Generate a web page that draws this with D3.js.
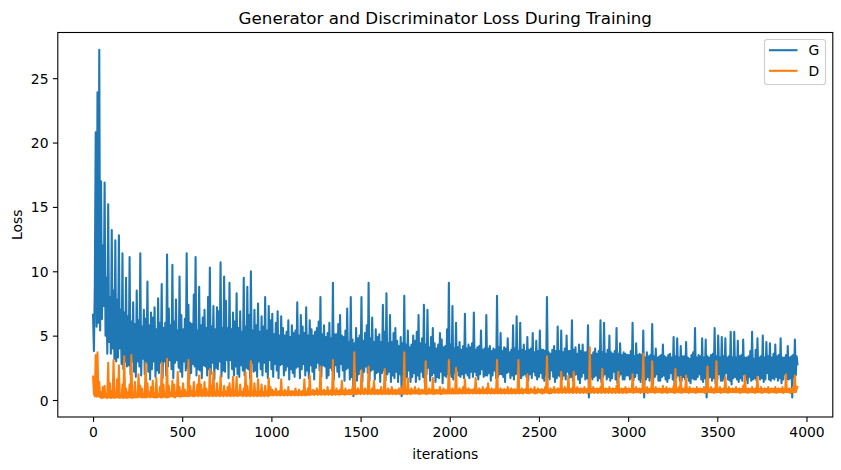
<!DOCTYPE html>
<html>
<head>
<meta charset="utf-8">
<script src="https://cdn.jsdelivr.net/npm/d3@7"></script>
<style>
  html, body { margin: 0; padding: 0; background: #fff; }
  text { font-family: "DejaVu Sans", sans-serif; fill: #000; }
</style>
</head>
<body>
<svg id="chart" width="841" height="470"></svg>
<script>
// ---- data (one value every 5 iterations) ----
const iterStep = 5;
const seriesNames = ["G", "D"];
const seriesColors = ["#1f77b4", "#ff7f0e"];
const gLoss = [
  6.7,3.8,8.9,20.8,5.7,23.9,6.0,27.2,5.4,17.0,6.3,12.0,7.3,16.9,5.0,9.5,3.6,15.2,4.5,8.0,3.6,13.2,4.0,8.5,3.2,12.4,3.0,7.8,3.3,12.8,4.0,7.0,2.8,11.4,2.4,6.8,3.0,9.5,2.6,6.5,
  2.7,11.1,2.0,6.1,3.0,7.6,2.2,5.9,1.8,8.5,3.0,6.2,2.6,11.4,1.9,5.7,3.2,7.0,2.0,6.3,2.9,9.2,2.2,5.8,1.6,6.8,2.4,6.4,3.0,7.2,1.8,5.5,2.3,7.9,2.1,6.0,2.9,9.0,1.7,5.6,
  3.0,6.0,1.9,11.3,2.6,7.1,3.1,5.8,2.4,10.5,1.7,6.1,2.9,7.8,3.1,5.4,2.5,9.6,2.2,6.6,1.8,5.5,3.0,6.3,2.3,11.4,2.5,7.4,1.6,6.0,2.1,5.9,2.8,8.2,2.6,11.1,1.9,5.4,2.4,8.8,
  2.3,5.8,1.7,6.4,2.7,7.0,2.6,5.6,1.9,8.0,2.4,10.3,2.0,5.7,2.9,7.3,1.6,5.5,2.5,7.2,2.4,6.9,3.0,10.7,1.8,5.6,2.3,9.6,2.2,7.7,3.1,5.6,1.7,9.1,3.1,5.5,2.4,6.8,1.9,6.1,
  2.6,8.3,2.0,5.6,1.8,6.9,2.7,5.3,2.3,9.5,1.9,5.7,2.5,8.8,2.4,6.6,1.7,10.0,2.9,5.4,2.2,7.0,2.3,5.8,1.8,7.5,3.0,5.3,2.4,6.5,1.9,5.7,2.9,8.0,2.2,5.4,1.7,7.3,3.1,6.2,
  2.4,6.7,1.8,5.1,2.8,6.0,2.3,6.9,1.7,5.0,2.7,6.5,2.8,5.6,1.9,5.0,2.3,5.3,2.6,6.2,1.6,4.9,2.4,5.8,2.1,5.2,1.8,5.4,2.5,7.6,2.6,5.0,1.7,6.6,2.4,5.7,2.8,5.2,1.9,7.2,
  2.3,5.0,1.7,6.2,2.7,5.5,2.2,5.0,1.6,5.3,2.5,5.6,2.9,6.1,2.3,8.0,1.8,5.1,2.7,5.8,2.6,4.9,1.7,5.2,1.9,6.0,2.5,4.8,2.3,9.1,1.6,5.1,2.7,5.1,2.2,5.9,1.8,6.6,2.8,5.0,
  2.3,4.9,1.5,5.4,2.4,7.1,2.5,4.5,1.6,8.0,1.8,4.7,0.3,4.4,2.2,5.6,1.5,4.8,2.0,5.0,2.4,8.0,1.4,4.6,2.2,5.2,2.6,5.8,2.1,9.1,1.5,4.8,2.3,6.4,2.4,4.5,1.6,5.5,2.1,4.9,
  2.2,5.1,1.4,4.5,2.1,7.4,2.3,5.3,1.5,8.3,2.0,4.4,2.2,6.6,1.4,4.5,1.9,5.2,1.7,5.6,2.2,4.6,1.4,4.2,2.0,4.9,0.3,4.4,2.1,8.1,1.5,4.3,1.8,5.4,2.3,4.1,1.4,4.3,1.8,5.0,
  2.1,4.6,1.4,5.3,1.9,6.6,1.6,4.4,2.2,4.8,1.8,7.4,1.3,4.3,2.0,7.0,2.5,4.1,1.5,4.9,1.9,5.6,2.1,4.4,1.4,4.0,1.8,4.3,1.7,5.2,2.2,4.7,1.3,4.1,1.9,4.2,1.8,5.5,2.0,9.1,
  2.0,4.3,1.8,7.3,1.6,4.0,2.1,6.0,2.3,4.1,1.9,4.5,1.8,3.9,2.0,4.2,1.7,6.7,2.1,4.0,1.9,4.3,1.7,4.1,2.2,4.4,1.8,6.8,2.2,3.9,1.9,4.1,1.6,4.2,2.0,5.4,2.4,3.9,1.8,4.0,
  1.9,6.6,1.9,4.0,2.1,4.2,1.5,3.8,1.9,4.0,2.3,3.9,1.7,8.1,1.8,4.1,2.0,5.2,2.0,3.8,1.8,4.1,1.4,4.0,2.1,4.8,2.2,3.7,1.7,3.9,1.9,5.8,1.6,4.0,2.0,6.5,2.1,3.8,1.7,6.0,
  1.7,3.9,1.9,4.3,2.0,3.8,1.8,4.9,1.5,3.9,2.0,4.0,1.7,5.2,2.2,3.7,1.9,4.6,1.6,3.8,1.8,5.4,2.1,3.9,1.7,3.9,1.5,3.8,1.9,8.0,1.8,3.7,1.6,3.6,2.3,3.9,1.8,4.2,1.4,3.8,
  1.7,5.7,1.9,3.8,1.8,5.4,1.6,3.7,1.9,4.0,1.6,5.0,2.2,3.8,1.7,3.8,1.8,6.2,1.5,3.9,1.9,4.1,2.0,3.6,1.6,4.3,1.3,3.8,1.8,4.3,2.1,3.7,1.6,3.7,1.7,5.8,0.2,3.6,1.8,3.5,
  1.6,3.7,1.8,4.0,1.9,3.6,1.5,3.8,1.7,6.2,1.4,3.7,1.8,6.0,2.0,3.6,1.6,3.9,1.8,5.0,1.5,3.7,1.7,3.6,2.2,3.8,1.6,5.6,1.3,3.6,1.8,4.4,2.0,3.5,1.6,3.7,1.6,3.6,1.9,3.5,
  1.9,3.5,1.6,3.8,1.7,6.0,1.5,3.4,1.8,4.4,2.1,3.5,1.6,3.6,1.4,3.5,1.7,5.4,0.2,3.3,1.6,3.7,1.8,3.4,1.5,3.5,1.7,5.9,1.3,3.4,1.8,4.0,2.0,3.3,1.5,3.4,1.5,3.5,1.8,4.3,
  1.9,3.4,1.6,3.3,1.4,3.5,1.7,3.6,2.1,3.3,1.6,4.9,1.2,3.4,1.7,4.8,1.9,3.3,1.5,4.2,1.5,3.4,1.8,3.4,1.6,4.5,1.8,3.3,1.5,3.2,1.3,3.5,1.7,3.7,1.6,5.6,1.6,3.3,1.8,3.5,
  2.0,3.4,1.6,4.8,1.4,3.3,1.7,4.7,0.2,3.4,1.6,3.3,1.8,3.5,1.5,3.6,1.7,5.6,1.3,3.4,1.6,5.0,2.0,3.3,1.5,4.9,1.5,3.4,1.7,4.8,2.1,3.3,1.6,3.4,1.5,5.3,1.2,3.3,1.7,5.3,
  1.8,3.3,1.6,4.6,1.4,3.4,1.7,3.5,1.5,4.7,2.0,3.3,1.6,3.3,1.3,3.4,1.8,3.8,1.5,5.3,1.6,3.2,1.7,3.9,1.5,4.8,1.9,3.3,1.6,3.4,1.7,5.0,1.4,3.3,1.6,4.5,2.1,3.4,1.6,4.4,
  1.5,3.3,1.7,3.6,1.6,4.3,1.8,3.4,1.5,3.5,1.7,4.8,1.3,3.3,1.6,3.3,2.0,3.5,1.6,4.2,1.6,3.3,1.7,3.4,0.2,3.5,1.8,4.7,1.9,3.4,2.7
];
const dLoss = [
  1.9,0.5,0.3,3.5,0.25,3.7,0.3,1.4,0.2,0.6,0.15,1.0,0.2,1.1,0.2,0.4,0.15,2.9,0.2,1.3,0.15,0.7,0.2,3.1,0.15,0.5,0.2,1.6,0.2,2.7,0.15,0.45,0.2,1.2,0.15,3.4,0.2,0.9,0.15,0.6,
  0.2,1.2,0.2,3.5,0.15,0.45,0.2,1.4,0.2,0.4,0.2,2.0,0.25,1.1,0.2,0.9,0.2,0.45,0.2,2.9,0.2,1.3,0.25,0.6,0.2,1.0,0.25,1.5,0.2,0.5,0.2,1.7,0.2,0.45,0.25,1.0,0.2,2.9,0.2,1.2,
  0.25,0.5,0.2,3.2,0.2,1.1,0.25,0.6,0.3,1.5,0.25,1.2,0.2,0.55,0.3,2.2,0.3,1.0,0.25,0.7,0.3,1.3,0.3,0.8,0.3,0.6,0.3,3.1,0.3,1.1,0.35,0.7,0.3,1.4,0.3,0.6,0.35,1.2,0.3,1.9,
  0.35,1.2,0.3,0.8,0.35,1.4,0.3,0.9,0.35,0.6,0.3,2.4,0.35,1.1,0.3,2.2,0.35,0.6,0.3,1.3,0.35,0.65,0.3,1.9,0.35,0.6,0.3,1.1,0.35,0.65,0.3,1.0,0.35,1.3,0.3,0.8,0.35,1.8,0.3,0.65,
  0.35,1.8,0.3,0.6,0.35,1.2,0.35,0.6,0.3,0.9,0.35,2.2,0.3,1.1,0.35,0.7,0.3,3.0,0.35,0.6,0.3,1.3,0.35,0.6,0.3,1.6,0.35,0.65,0.3,1.2,0.35,0.6,0.3,1.1,0.35,0.65,0.3,1.7,0.35,1.0,
  0.4,0.8,0.35,0.65,0.4,0.9,0.35,0.65,0.4,0.7,0.35,1.6,0.4,0.65,0.35,0.8,0.4,0.65,0.35,1.0,0.4,0.65,0.35,0.7,0.4,0.65,0.35,0.9,0.4,0.65,0.35,0.8,0.4,0.65,0.35,0.7,0.4,1.6,0.35,0.65,
  0.4,0.9,0.4,1.9,0.4,0.7,0.45,0.8,0.4,0.7,0.45,0.9,0.4,0.7,0.45,2.6,0.4,0.7,0.45,0.8,0.4,0.7,0.45,1.0,0.4,0.7,0.45,0.8,0.4,3.1,0.45,0.7,0.4,0.9,0.45,0.7,0.4,0.8,0.45,1.5,
  0.45,0.7,0.4,0.9,0.45,0.7,0.45,0.8,0.45,0.75,0.45,1.0,0.45,3.7,0.45,0.75,0.45,0.9,0.5,0.75,0.45,2.3,0.5,0.75,0.45,0.9,0.5,0.75,0.45,2.6,0.5,0.75,0.45,0.9,0.5,1.5,0.45,0.75,0.5,0.8,
  0.45,0.75,0.5,1.0,0.45,0.75,0.5,2.4,0.45,0.75,0.5,0.9,0.45,0.75,0.5,1.0,0.45,0.75,0.5,0.8,0.45,0.75,0.5,0.9,0.45,0.75,0.5,1.1,0.45,3.7,0.5,0.75,0.45,1.7,0.5,0.75,0.45,0.9,0.5,0.75,
  0.5,1.0,0.5,0.75,0.5,0.9,0.45,0.75,0.5,0.8,0.5,0.75,0.5,3.0,0.45,0.75,0.5,0.9,0.5,0.75,0.5,1.7,0.45,0.75,0.5,0.8,0.5,0.75,0.5,1.0,0.45,0.75,0.5,0.9,0.5,0.75,0.5,0.8,0.5,3.1,
  0.5,0.8,0.5,0.9,0.5,0.8,0.5,2.5,0.5,0.8,0.5,0.9,0.55,0.8,0.5,1.0,0.55,1.6,0.5,0.8,0.55,0.9,0.5,0.8,0.55,0.8,0.5,0.85,0.55,1.7,0.5,0.8,0.55,0.9,0.5,0.8,0.55,1.0,0.5,0.8,
  0.55,0.9,0.5,1.3,0.55,0.8,0.5,0.9,0.55,0.8,0.5,0.85,0.55,3.1,0.5,0.8,0.55,0.9,0.5,0.8,0.55,0.85,0.5,0.8,0.55,1.0,0.5,0.8,0.55,0.9,0.5,0.8,0.55,0.85,0.5,0.8,0.55,3.1,0.5,0.8,
  0.55,0.9,0.5,0.8,0.6,0.85,0.55,2.0,0.5,0.8,0.55,0.9,0.6,0.8,0.55,1.0,0.5,0.8,0.55,0.9,0.6,0.8,0.55,0.85,0.5,0.8,0.55,1.0,0.6,3.4,0.55,0.8,0.5,0.9,0.55,0.8,0.6,1.0,0.55,0.8,
  0.6,0.9,0.55,0.85,0.6,2.2,0.55,0.85,0.6,1.0,0.55,0.85,0.6,1.9,0.55,0.85,0.6,0.9,0.55,2.2,0.6,0.85,0.55,1.0,0.6,0.85,0.55,0.9,0.6,0.85,0.55,1.0,0.6,0.85,0.55,0.9,0.6,4.1,0.55,0.85,
  0.6,1.0,0.55,0.85,0.6,0.9,0.55,0.85,0.6,1.0,0.55,2.4,0.6,0.85,0.55,0.9,0.6,0.85,0.55,1.0,0.6,0.85,0.55,0.9,0.6,0.85,0.55,1.1,0.6,2.2,0.55,0.85,0.6,0.9,0.55,0.85,0.6,1.0,0.55,0.85,
  0.6,0.9,0.6,0.85,0.6,2.0,0.55,0.85,0.6,1.0,0.6,0.85,0.6,0.9,0.55,0.85,0.6,3.6,0.6,0.85,0.6,1.0,0.55,0.85,0.6,0.9,0.6,3.0,0.6,0.85,0.55,1.0,0.6,0.85,0.6,0.9,0.6,0.85,0.55,1.1,
  0.6,0.85,0.6,1.0,0.55,0.85,0.6,0.9,0.6,0.85,0.6,1.1,0.55,2.4,0.6,0.85,0.6,1.0,0.6,1.8,0.55,0.85,0.6,0.9,0.6,1.9,0.6,0.85,0.55,1.0,0.6,0.85,0.6,0.9,0.6,0.85,0.55,1.0,0.6,0.85,
  0.6,0.9,0.6,0.85,0.6,1.0,0.55,0.85,0.6,2.6,0.6,0.85,0.6,1.0,0.6,0.85,0.55,0.9,0.6,3.0,0.6,0.85,0.6,1.0,0.55,0.85,0.6,0.9,0.6,1.8,0.6,0.85,0.55,1.0,0.6,0.85,0.6,0.9,0.6,0.85,
  0.6,1.0,0.6,0.85,0.6,0.9,0.55,0.85,0.6,1.1,0.6,1.9,0.6,0.85,0.55,0.9,0.6,0.85,0.6,1.0,0.6,0.85,0.55,0.9,0.6,1.8,0.6,0.85,0.6,1.0,0.55,0.85,0.6,0.9,0.6,0.85,0.6,1.0,0.55,0.85,
  0.6,0.9,0.6,0.85,0.6,1.0,0.55,0.85,0.6,0.9,0.6,0.85,0.6,1.0,0.55,0.85,0.6,2.0,0.6,0.85,0.6,0.9,0.55,0.85,0.6,1.0,0.6,1.9,0.6,0.85,1.1
];
const xTicks = [0, 500, 1000, 1500, 2000, 2500, 3000, 3500, 4000];
const yTicks = [0, 5, 10, 15, 20, 25];
const titleText = "Generator and Discriminator Loss During Training";
const xLabelText = "iterations";
const yLabelText = "Loss";

// ---- layout ----
const svg = d3.select("#chart");
const W = 841, H = 470;
const plot = { left: 57.8, right: 832.8, top: 32.5, bottom: 417 };

svg.append("rect").attr("width", W).attr("height", H).attr("fill", "#fff");

const xMax = (gLoss.length - 1) * iterStep;
const x = d3.scaleLinear()
  .domain([-0.05 * xMax, xMax * 1.05])
  .range([plot.left, plot.right]);
const y = d3.scaleLinear()
  .domain([-1.32, 28.55])
  .range([plot.bottom, plot.top]);

const series = [gLoss, dLoss].map((vals, k) => ({
  name: seriesNames[k],
  color: seriesColors[k],
  points: vals.map((v, i) => [i * iterStep, v])
}));

const line = d3.line().x(d => x(d[0])).y(d => y(d[1]));

const gLines = svg.append("g");
series.forEach(s => {
  gLines.append("path")
    .attr("d", line(s.points))
    .attr("fill", "none")
    .attr("stroke", s.color)
    .attr("stroke-width", 2.08)
    .attr("stroke-linejoin", "round")
    .attr("stroke-linecap", "butt");
});

// ---- axes ----
const tickFont = 13.9;
const xAxis = d3.axisBottom(x).tickValues(xTicks).tickSize(4.9).tickPadding(4.4).tickFormat(d3.format("d"));
const yAxis = d3.axisLeft(y).tickValues(yTicks).tickSize(4.9).tickPadding(4.4).tickFormat(d3.format("d"));

const gx = svg.append("g").attr("transform", `translate(0,${plot.bottom})`).call(xAxis);
const gy = svg.append("g").attr("transform", `translate(${plot.left},0)`).call(yAxis);
[gx, gy].forEach(g => {
  g.select(".domain").remove();
  g.selectAll(".tick line").attr("stroke", "#000").attr("stroke-width", 1.1);
  g.selectAll(".tick text")
    .attr("font-family", "DejaVu Sans, sans-serif")
    .attr("font-size", tickFont)
    .attr("fill", "#000");
});
gx.selectAll(".tick text").attr("dy", "0.74em");
gy.selectAll(".tick text").attr("dy", "0.36em");

// spines
svg.append("rect")
  .attr("x", plot.left).attr("y", plot.top)
  .attr("width", plot.right - plot.left).attr("height", plot.bottom - plot.top)
  .attr("fill", "none").attr("stroke", "#000").attr("stroke-width", 1.1);

// ---- labels ----
svg.append("text")
  .attr("x", (plot.left + plot.right) / 2).attr("y", 23.5)
  .attr("text-anchor", "middle").attr("font-size", 16.7)
  .text(titleText);
svg.append("text")
  .attr("x", (plot.left + plot.right) / 2).attr("y", 458.5)
  .attr("text-anchor", "middle").attr("font-size", tickFont)
  .text(xLabelText);
svg.append("text")
  .attr("transform", `translate(21.7,${(plot.top + plot.bottom) / 2}) rotate(-90)`)
  .attr("text-anchor", "middle").attr("font-size", tickFont)
  .text(yLabelText);

// ---- legend ----
const lg = svg.append("g");
lg.append("rect")
  .attr("x", 764.5).attr("y", 39.5).attr("width", 61).attr("height", 45)
  .attr("rx", 2.8).attr("ry", 2.8)
  .attr("fill", "#fff").attr("fill-opacity", 0.8)
  .attr("stroke", "#cccccc").attr("stroke-width", 1.1);
series.forEach((s, k) => {
  const ly = 50.2 + k * 20.6;
  lg.append("line")
    .attr("x1", 769).attr("x2", 797.5).attr("y1", ly).attr("y2", ly)
    .attr("stroke", s.color).attr("stroke-width", 2.08);
  lg.append("text")
    .attr("x", 808.5).attr("y", ly + 5)
    .attr("font-size", tickFont)
    .text(s.name);
});
</script>
</body>
</html>
